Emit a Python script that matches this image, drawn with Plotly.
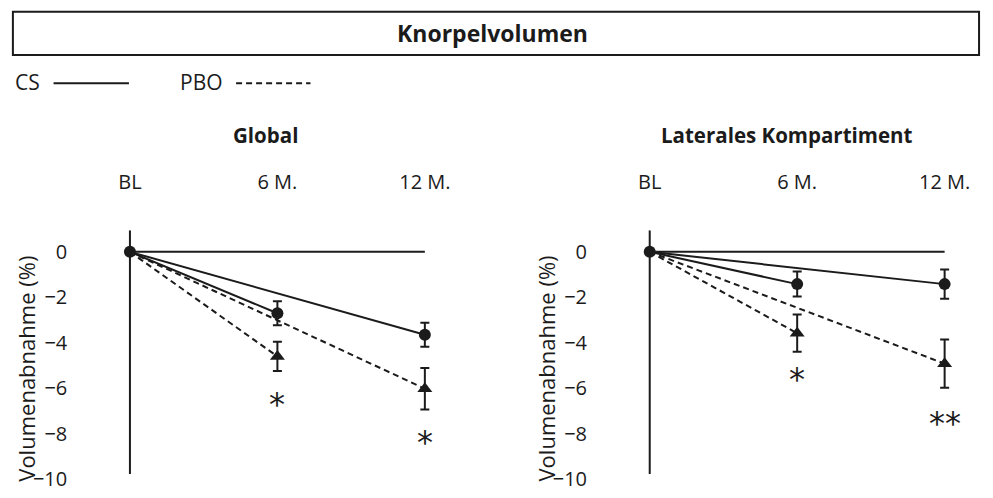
import plotly.graph_objects as go

# ---------------- data ----------------
timepoints = ["BL", "6 M.", "12 M."]
x_index = [0, 1, 2]
panel_titles = ["Global", "Laterales Kompartiment"]

cs_global = [0.0, -2.70, -3.65]
cs_global_err = [0.0, 0.53, 0.53]
pbo_global = [0.0, -4.60, -6.02]
pbo_global_err = [0.0, 0.64, 0.91]

cs_lateral = [0.0, -1.42, -1.42]
cs_lateral_err = [0.0, 0.55, 0.64]
pbo_lateral = [0.0, -3.58, -4.92]
pbo_lateral_err = [0.0, 0.82, 1.06]

sig_global = ["", "*", "*"]
sig_lateral = ["", "*", "**"]

ytick_vals = [0, -2, -4, -6, -8, -10]
ytick_text = ["0", "\u22122", "\u22124", "\u22126", "\u22128", "\u221210"]

main_title = "Knorpelvolumen"
y_title = "Volumenabnahme (%)"
legend_names = ["CS", "PBO"]

# ---------------- style ----------------
W, H = 993, 498
INK = "#1b1b1b"
FONT = "Open Sans"
DASH = "6px,4px"
XPAD = 0.12  # extra x-range so error-bar caps are not clipped
UNIT = (428.3 - 131) / 2.0
YUNIT = 23.2
Y0PIX = 257
YTOP, YBOT = 0.95, -10.15


def px(xp):
    return xp / W


def py(yp):
    return 1 - yp / H


fig = go.Figure()

panels = [
    (cs_global, cs_global_err, pbo_global, pbo_global_err, sig_global, "x", "y", 131, 268),
    (cs_lateral, cs_lateral_err, pbo_lateral, pbo_lateral_err, sig_lateral, "x2", "y2", 655, 793),
]

annotations = []
shapes = []


def rays(vals):
    xs, ys = [], []
    for i in x_index[1:]:
        xs += [x_index[0], x_index[i], None]
        ys += [vals[0], vals[i], None]
    return xs, ys


for k, (cs, cs_err, pbo, pbo_err, sig, xa, ya, x0pix, title_x) in enumerate(panels):
    xs, ys = rays(pbo)
    fig.add_trace(go.Scatter(x=xs, y=ys, mode="lines", xaxis=xa, yaxis=ya,
                             line=dict(color=INK, width=2, dash=DASH),
                             showlegend=False, hoverinfo="skip", cliponaxis=False))
    xs, ys = rays(cs)
    fig.add_trace(go.Scatter(x=xs, y=ys, mode="lines", xaxis=xa, yaxis=ya,
                             line=dict(color=INK, width=2),
                             showlegend=False, hoverinfo="skip", cliponaxis=False))
    fig.add_trace(go.Scatter(x=x_index[1:], y=pbo[1:], mode="markers", xaxis=xa, yaxis=ya,
                             marker=dict(symbol="triangle-up", size=13, color=INK),
                             error_y=dict(type="data", array=pbo_err[1:], color=INK,
                                          thickness=2, width=4.5),
                             name=legend_names[1], showlegend=False, cliponaxis=False))
    fig.add_trace(go.Scatter(x=x_index[1:], y=cs[1:], mode="markers", xaxis=xa, yaxis=ya,
                             marker=dict(symbol="circle", size=12, color=INK),
                             error_y=dict(type="data", array=cs_err[1:], color=INK,
                                          thickness=2, width=4.5),
                             name=legend_names[0], showlegend=False, cliponaxis=False))
    fig.add_trace(go.Scatter(x=x_index[:1], y=cs[:1], mode="markers", xaxis=xa, yaxis=ya,
                             marker=dict(symbol="circle", size=12, color=INK),
                             showlegend=False, cliponaxis=False))

    shifts = [0, -27, -27] if k == 0 else [0, -21, -29]
    for i in x_index[1:]:
        if sig[i]:
            annotations.append(dict(x=x_index[i], y=pbo[i] - pbo_err[i], xref=xa, yref=ya,
                                    text=sig[i], showarrow=False, yshift=shifts[i] - 6,
                                    font=dict(family="DejaVu Sans", size=32, color=INK),
                                    xanchor="center", yanchor="middle"))

    # vertical axis line and zero baseline
    shapes.append(dict(type="line", xref=xa, yref=ya, x0=0, x1=0, y0=YTOP, y1=-9.77,
                       line=dict(color=INK, width=2), layer="below"))
    shapes.append(dict(type="line", xref=xa, yref=ya, x0=0, x1=2, y0=0, y1=0,
                       line=dict(color=INK, width=2), layer="below"))

    annotations.append(dict(x=px(title_x), y=py(137.7), xref="paper", yref="paper",
                            text="<b>%s</b>" % panel_titles[k], showarrow=False,
                            xanchor="center", yanchor="middle",
                            font=dict(family=FONT, size=20.5, color=INK)))
    annotations.append(dict(x=px(x0pix - 105), y=py(376.5), xref="paper", yref="paper",
                            text=y_title, textangle=-90, showarrow=False,
                            xanchor="center", yanchor="middle",
                            font=dict(family=FONT, size=22, color=INK)))


def xdomain(x0pix):
    return [px(x0pix - XPAD * UNIT), px(x0pix + (2 + XPAD) * UNIT)]


axis_common_x = dict(range=[-XPAD, 2 + XPAD], side="top", showgrid=False, zeroline=False,
                     showline=False, ticks="", tickvals=x_index, ticktext=timepoints,
                     tickfont=dict(family=FONT, size=20, color=INK), ticklabelstandoff=36,
                     ticklabeloverflow="allow", fixedrange=True)
axis_common_y = dict(range=[YBOT, YTOP],
                     domain=[py(Y0PIX - YBOT * YUNIT), py(Y0PIX - YTOP * YUNIT)],
                     showgrid=False, zeroline=False, showline=False,
                     ticks="", tickvals=ytick_vals, ticktext=ytick_text,
                     tickfont=dict(family=FONT, size=20, color=INK),
                     ticklabelstandoff=int(round(26 + XPAD * UNIT)),
                     ticklabeloverflow="allow", fixedrange=True)

fig.update_layout(
    xaxis=dict(domain=xdomain(131), anchor="y", **axis_common_x),
    yaxis=dict(anchor="x", **axis_common_y),
    xaxis2=dict(domain=xdomain(655), anchor="y2", **axis_common_x),
    yaxis2=dict(anchor="x2", **axis_common_y),
)

shapes.append(dict(type="rect", xref="paper", yref="paper", x0=px(13), x1=px(987),
                   y0=py(56), y1=py(12), line=dict(color=INK, width=2)))
annotations.append(dict(x=0.5, y=py(34), xref="paper", yref="paper",
                        text="<b>%s</b>" % main_title, showarrow=False,
                        xanchor="center", yanchor="middle",
                        font=dict(family=FONT, size=23, color=INK)))

annotations.append(dict(x=px(13), y=py(84), xref="paper", yref="paper", text=legend_names[0],
                        showarrow=False, xanchor="left", yanchor="middle",
                        font=dict(family=FONT, size=21, color=INK)))
shapes.append(dict(type="line", xref="paper", yref="paper", x0=px(54), x1=px(130),
                   y0=py(85), y1=py(85), line=dict(color=INK, width=2)))
annotations.append(dict(x=px(179), y=py(84), xref="paper", yref="paper", text=legend_names[1],
                        showarrow=False, xanchor="left", yanchor="middle",
                        font=dict(family=FONT, size=21, color=INK)))
shapes.append(dict(type="line", xref="paper", yref="paper", x0=px(238), x1=px(313),
                   y0=py(85), y1=py(85), line=dict(color=INK, width=2, dash=DASH)))

fig.update_layout(
    width=W, height=H, autosize=False,
    margin=dict(l=0, r=0, t=0, b=0),
    paper_bgcolor="white", plot_bgcolor="white",
    font=dict(family=FONT, color=INK),
    showlegend=False,
    annotations=annotations,
    shapes=shapes,
)

fig.write_html(
    "out.html",
    config={"responsive": False, "displayModeBar": False},
    post_script=(
        "document.documentElement.style.overflow='hidden';"
        "document.body.style.margin='0';document.body.style.overflow='hidden';"
        "var gd=document.getElementById('{plot_id}');"
        "gd.style.overflow='hidden';gd.style.height='498px';gd.style.width='993px';"
        "var sc=gd.querySelector('.svg-container');"
        "if(sc){sc.style.overflow='hidden';}"
    ),
)
